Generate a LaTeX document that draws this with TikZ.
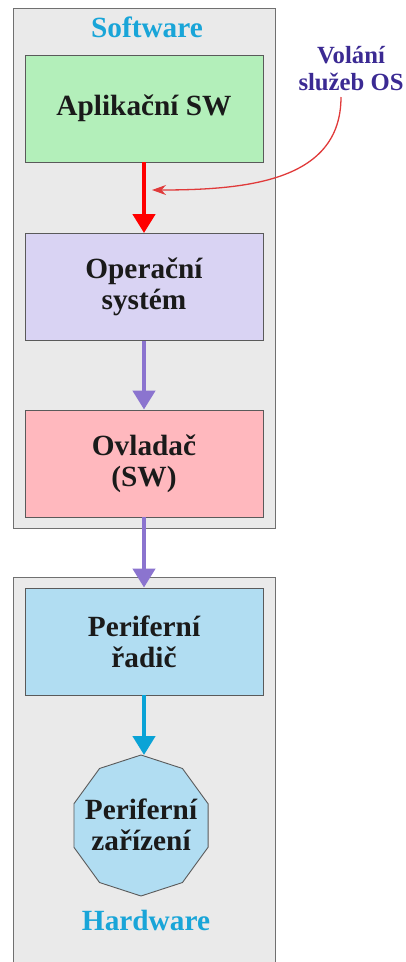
\documentclass[tikz,border=0pt]{standalone}
\usepackage{fontspec}
\setmainfont{Liberation Serif}
\usetikzlibrary{arrows.meta}
\definecolor{panelfill}{HTML}{EAEAEA}
\definecolor{panelline}{HTML}{707070}
\definecolor{boxline}{HTML}{5A5A5A}
\definecolor{cgreen}{HTML}{B3EFBA}
\definecolor{cpurple}{HTML}{D9D3F3}
\definecolor{cpink}{HTML}{FFB8BE}
\definecolor{cblue}{HTML}{B1DDF2}
\definecolor{ared}{HTML}{FF0000}
\definecolor{apurple}{HTML}{8B74CF}
\definecolor{acyan}{HTML}{0AA3D6}
\definecolor{lcyan}{HTML}{19A5D8}
\definecolor{lnavy}{HTML}{3B2A93}
\definecolor{thinred}{HTML}{E03A3A}
\definecolor{txt}{HTML}{1A1A1A}
\tikzset{
  panel/.style={fill=panelfill,draw=panelline,line width=0.9pt},
  boxfont/.style={font=\fontsize{29.3}{31}\selectfont\bfseries},
  layerbox/.style={draw=boxline,line width=0.9pt,minimum width=238pt,minimum height=107pt,inner sep=0pt,align=center,text=txt,boxfont},
  panellabel/.style={text=lcyan,boxfont,inner sep=0pt},
  bigarrow/.style={line width=4.5pt,-{Triangle[width=22pt,length=19pt]}},
}
\begin{document}
\begin{tikzpicture}[x=1pt,y=-1pt]
\useasboundingbox (0,0) rectangle (406,962);
% panels
\filldraw[panel] (13,8) rectangle (275,528);
\fill[panelfill] (13,577) rectangle (275,962);
\draw[panelline,line width=0.9pt] (13,962) -- (13,577) -- (275,577) -- (275,962);
% labels
\node[panellabel,anchor=base] (sw) at (147,37) {Software};
\node[panellabel,anchor=base] (hw) at (146,930) {Hardware};
% boxes
\node[layerbox,fill=cgreen] (app) at (144,108.5) {Aplikační SW};
\node[layerbox,fill=cpurple] (os) at (144,287) {Operační\\systém};
\node[layerbox,fill=cpink] (drv) at (144,463.5) {Ovladač\\(SW)};
\node[layerbox,fill=cblue] (ctrl) at (144,641.5) {Periferní\\řadič};
% decagon
\filldraw[fill=cblue,draw=boxline,line width=0.9pt,shift={(141,825.5)}]
  (90:70.5) -- (126:70.5) -- (162:70.5) -- (198:70.5) -- (234:70.5) -- (270:70.5)
  -- (306:70.5) -- (342:70.5) -- (18:70.5) -- (54:70.5) -- cycle;
\coordinate (devtop) at (141,755);
\node[align=center,inner sep=0pt,text=txt,boxfont] (dev) at (141,825) {Periferní\\zařízení};
% arrows
\draw[bigarrow,ared] (app.south) -- (os.north);
\draw[bigarrow,apurple] (os.south) -- (drv.north);
\draw[bigarrow,apurple] (drv.south) -- (ctrl.north);
\draw[bigarrow,acyan] (ctrl.south) -- (ctrl.south |- devtop);
% call label
\node[text=lnavy,align=center,inner sep=0pt,font=\fontsize{24.7}{27}\selectfont\bfseries] (call) at (351,69) {Volání\\služeb OS};
\coordinate (cs) at (341,97);
\coordinate (ce) at (152,190);
\draw[thinred,line width=1.3pt,-{Stealth[length=14pt,width=10pt]}] (cs) .. controls (341,180) and (250,190) .. (ce);
\end{tikzpicture}
\end{document}
